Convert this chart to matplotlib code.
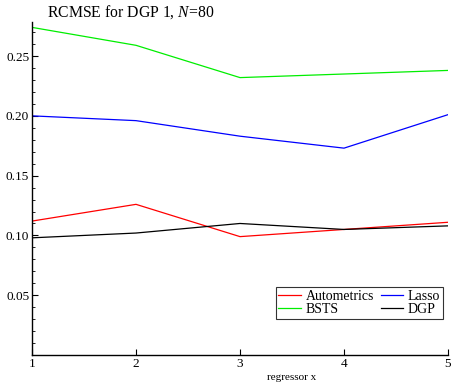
import numpy as np
import matplotlib
matplotlib.use("Agg")
import matplotlib.pyplot as plt
from matplotlib.ticker import MultipleLocator

x = [1, 2, 3, 4, 5]
autometrics = [0.112, 0.126, 0.099, 0.105, 0.111]
lasso = [0.200, 0.196, 0.183, 0.173, 0.201]
bsts = [0.274, 0.259, 0.232, 0.235, 0.238]
dgp = [0.098, 0.102, 0.110, 0.105, 0.108]

plt.rcParams['font.family'] = ['Liberation Serif', 'DejaVu Serif']
plt.rcParams['mathtext.fontset'] = 'custom'
plt.rcParams['mathtext.it'] = 'Liberation Serif:italic'
plt.rcParams['mathtext.rm'] = 'Liberation Serif'

fig = plt.figure(figsize=(4.52, 3.87), dpi=100)
ax = fig.add_axes([32/452, 1-355/387, 416/452, 333/387])

ax.plot(x, autometrics, color='red', lw=0.9, label='Autometrics')
ax.plot(x, bsts, color='#00ee00', lw=0.9, label='BSTS')
ax.plot(x, lasso, color='blue', lw=0.9, label='Lasso')
ax.plot(x, dgp, color='black', lw=0.9, label='DGP')

ax.set_xlim(1, 5)
ax.set_ylim(0, 0.2785)
ax.set_xticks(x)
ax.yaxis.set_major_locator(MultipleLocator(0.05))
ax.yaxis.set_minor_locator(MultipleLocator(0.01))
ax.set_yticks([0.05, 0.10, 0.15, 0.20, 0.25])
ax.set_yticklabels(['0.05', '0.10', '0.15', '0.20', '0.25'])
ax.tick_params(direction='in', labelsize=9.5, width=0.8, length=4, pad=2)
ax.tick_params(which='minor', direction='in', length=2, width=0.6)
for s in ['top', 'right']:
    ax.spines[s].set_visible(False)
for s in ['left', 'bottom']:
    ax.spines[s].set_linewidth(1.0)

ax.set_title('RCMSE for DGP 1, $N$=80', fontsize=11.3, loc='left', x=0.036, pad=4)
ax.set_xlabel('regressor x', fontsize=8)
ax.xaxis.set_label_coords(0.625, -0.055)

leg = ax.legend(ncol=2, loc='lower right', bbox_to_anchor=(0.988, 0.108),
                fontsize=10, frameon=True, fancybox=False, edgecolor='black',
                handlelength=1.6, handletextpad=0.35, columnspacing=0.5,
                borderpad=0.2, labelspacing=0.05, borderaxespad=0)
leg.get_frame().set_linewidth(0.8)

fig.savefig('out.png', dpi=100)
